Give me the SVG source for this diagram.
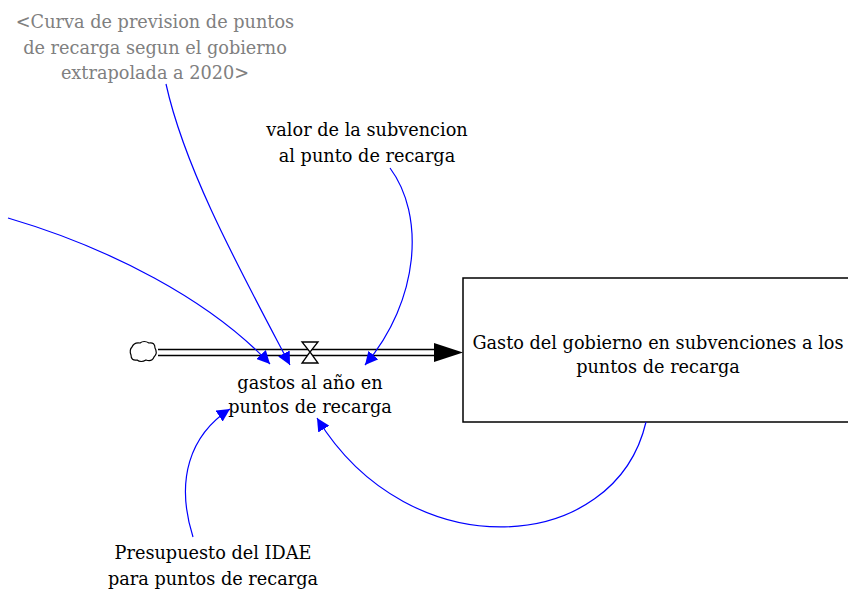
<svg xmlns="http://www.w3.org/2000/svg" width="848" height="590" viewBox="0 0 848 590">
<defs>
<style>
.t{font-family:"DejaVu Serif","Liberation Serif",serif;font-size:17.7px;fill:#000;text-anchor:middle}
.g{fill:#808080}
.c{fill:none;stroke:#0000ff;stroke-width:1.2}
</style>
<marker id="ah" viewBox="0 0 10 10" refX="10" refY="5" markerWidth="13" markerHeight="13" markerUnits="userSpaceOnUse" orient="auto">
<path d="M0,0 L10,5 L0,10 Z" fill="#0000ff"/>
</marker>
</defs>
<rect width="848" height="590" fill="#fff"/>
<g id="flow">
<path d="M132,347 q2,-5 8,-4 q4,-3 9,0 q6,-1 6,5 q3,5 -1,9 q-2,5 -8,3 q-5,3 -9,0 q-6,1 -6,-5 q-2,-5 1,-8 z" fill="#fff" stroke="#000" stroke-width="1.2"/>
<line x1="158" y1="349.5" x2="440" y2="349.5" stroke="#000" stroke-width="1.5"/>
<line x1="158" y1="355.5" x2="440" y2="355.5" stroke="#000" stroke-width="1.5"/>
<path d="M434,343 L463,352.5 L434,362 Z" fill="#000"/>
<path d="M302,342 L318,342 L310,352 L318,363 L302,363 L310,352 Z" fill="#fff" stroke="#000" stroke-width="1.3"/>
<text class="t" x="310" y="389">gastos al año en</text>
<text class="t" x="310" y="413">puntos de recarga</text>
</g>
<g id="stock">
<rect x="463" y="278" width="400" height="144" fill="#fff" stroke="#000" stroke-width="1.5"/>
<text class="t" x="658" y="349">Gasto del gobierno en subvenciones a los</text>
<text class="t" x="658" y="373">puntos de recarga</text>
</g>
<g id="curva">
<text class="t g" x="155" y="28">&lt;Curva de prevision de puntos</text>
<text class="t g" x="155" y="54">de recarga segun el gobierno</text>
<text class="t g" x="155" y="79">extrapolada a 2020&gt;</text>
</g>
<g id="valor">
<text class="t" x="367" y="136">valor de la subvencion</text>
<text class="t" x="367" y="162">al punto de recarga</text>
</g>
<g id="presupuesto">
<text class="t" x="213" y="559">Presupuesto del IDAE</text>
<text class="t" x="213" y="585">para puntos de recarga</text>
</g>
<g id="connectors">
<path class="c" d="M8,218 C110,248 210,300 270,364" marker-end="url(#ah)"/>
<path class="c" d="M166,84 C185,170 240,270 290,365" marker-end="url(#ah)"/>
<path class="c" d="M390,168 C425,215 420,300 365,365" marker-end="url(#ah)"/>
<path class="c" d="M646,422 C615,555 410,570 317,418" marker-end="url(#ah)"/>
<path class="c" d="M193,537 C175,480 190,435 230,409" marker-end="url(#ah)"/>
</g>
</svg>
